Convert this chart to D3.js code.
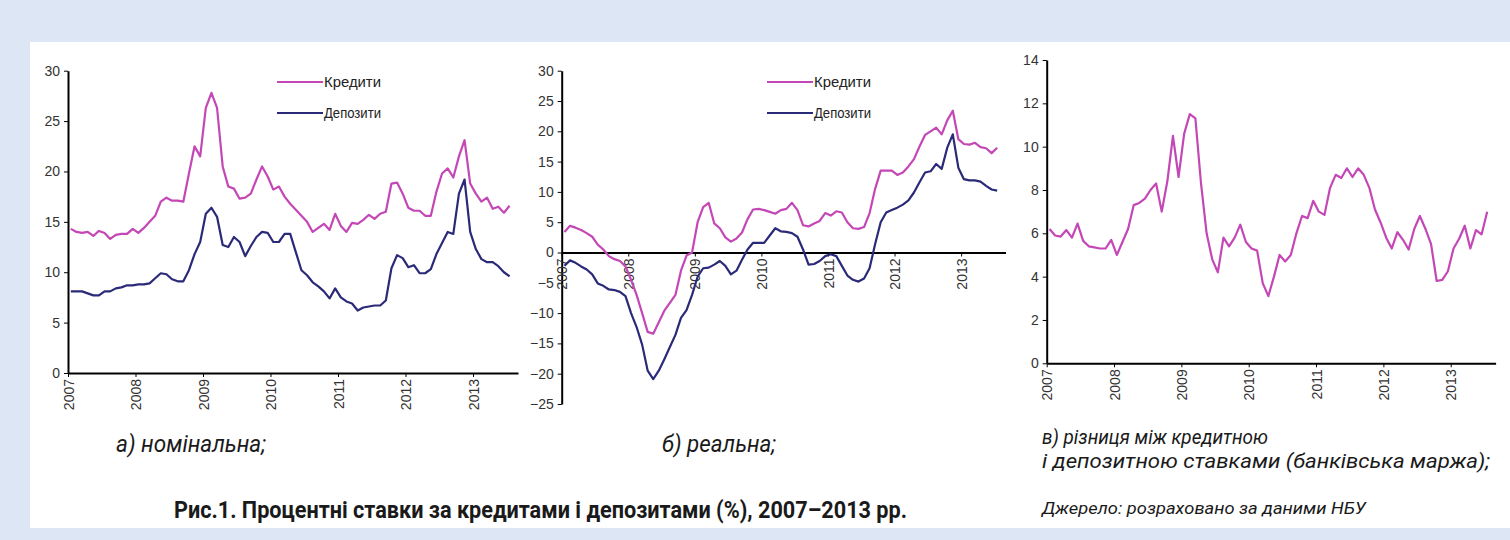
<!DOCTYPE html>
<html>
<head>
<meta charset="utf-8">
<script src="https://cdn.jsdelivr.net/npm/d3@7"></script>
<style>
  body { margin: 0; background: #dce6f4; }
  svg { display: block; }
  .tick text { font-family: "Liberation Sans", Arial, sans-serif; fill: #333; }
</style>
</head>
<body>
<svg id="chart" width="1510" height="540"></svg>
<script>
// Monthly series, Jan 2007 .. Jul 2013 (79 points)
const yearLabels = ['2007', '2008', '2009', '2010', '2011', '2012', '2013'];

const loansNominal = [
    14.3, 14.0, 13.9, 14.0, 13.6, 14.1, 13.9, 13.3, 13.7, 13.8, 13.8, 14.3,
    13.9, 14.4, 15.0, 15.6, 17.0, 17.4, 17.1, 17.1, 17.0, 19.8, 22.5, 21.5,
    26.3, 27.8, 26.3, 20.5, 18.5, 18.3, 17.3, 17.4, 17.8, 19.2, 20.5, 19.5,
    18.2, 18.5, 17.5, 16.8, 16.2, 15.6, 15.0, 14.0, 14.4, 14.8, 14.2, 15.8,
    14.6, 14.0, 14.9, 14.8, 15.2, 15.7, 15.3, 15.8, 16.0, 18.8, 18.9, 17.8,
    16.4, 16.1, 16.1, 15.6, 15.6, 18.0, 19.8, 20.3, 19.4, 21.5, 23.1, 18.8,
    17.8, 17.0, 17.4, 16.3, 16.5, 15.9, 16.6
];
const depositsNominal = [
    8.1, 8.1, 8.1, 7.9, 7.7, 7.7, 8.1, 8.1, 8.4, 8.5, 8.7, 8.7,
    8.8, 8.8, 8.9, 9.4, 9.9, 9.8, 9.3, 9.1, 9.1, 10.2, 11.8, 13.0,
    15.8, 16.4, 15.5, 12.7, 12.5, 13.5, 13.0, 11.6, 12.6, 13.5, 14.0, 13.9,
    13.0, 13.0, 13.8, 13.8, 12.0, 10.2, 9.7, 9.0, 8.6, 8.1, 7.4, 8.4,
    7.5, 7.1, 6.9, 6.2, 6.5, 6.6, 6.7, 6.7, 7.2, 10.4, 11.7, 11.4,
    10.5, 10.7, 9.9, 9.9, 10.3, 11.8, 12.9, 14.0, 13.8, 17.8, 19.2, 14.0,
    12.3, 11.3, 11.0, 11.0, 10.6, 10.0, 9.6
];
const loansReal = [
    3.4, 4.4, 4.1, 3.7, 3.2, 2.6, 1.3, 0.5, -0.6, -1.1, -1.4, -2.3,
    -4.5, -7.0, -10.0, -13.1, -13.4, -11.5, -9.6, -8.3, -7.0, -3.0, -0.5, 0.0,
    5.0, 7.5, 8.2, 4.8, 4.0, 2.5, 1.8, 2.3, 3.3, 5.5, 7.1, 7.2,
    7.0, 6.7, 6.4, 7.0, 7.2, 8.2, 7.0, 4.5, 4.3, 4.8, 5.2, 6.5,
    6.1, 6.8, 6.6, 5.0, 4.0, 3.9, 4.2, 6.5, 10.5, 13.5, 13.5, 13.5,
    12.8, 13.2, 14.2, 15.4, 17.5, 19.4, 20.0, 20.6, 19.5, 21.8, 23.4, 18.7,
    17.9, 17.8, 18.1, 17.4, 17.2, 16.4, 17.3
];
const depositsReal = [
    -2.2, -1.3, -1.7, -2.3, -2.8, -3.6, -5.1, -5.5, -6.1, -6.2, -6.5, -7.2,
    -10.0, -12.3, -15.2, -19.5, -20.9, -19.5, -17.6, -15.6, -13.6, -10.8, -9.5, -7.0,
    -4.0, -2.6, -2.5, -2.0, -1.4, -2.2, -3.6, -3.0, -1.2, 0.5, 1.6, 1.6,
    1.6, 2.8, 4.0, 3.5, 3.4, 3.2, 2.6, 0.5, -2.0, -1.9, -1.4, -0.6,
    -0.3, -0.6, -2.2, -3.8, -4.5, -4.8, -4.3, -2.6, 1.4, 5.0, 6.6, 7.0,
    7.4, 7.9, 8.6, 9.9, 11.6, 13.2, 13.4, 14.6, 13.8, 17.3, 19.5, 14.0,
    12.1, 11.9, 11.9, 11.7, 11.0, 10.4, 10.2
];
const bankMargin = [
    6.2, 5.9, 5.85, 6.15, 5.8, 6.45, 5.65, 5.4, 5.35, 5.3, 5.3, 5.7,
    5.0, 5.6, 6.2, 7.3, 7.4, 7.6, 8.0, 8.3, 7.0, 8.4, 10.5, 8.6,
    10.6, 11.5, 11.3, 8.3, 6.0, 4.8, 4.2, 5.8, 5.4, 5.8, 6.4, 5.6,
    5.3, 5.2, 3.7, 3.1, 4.0, 5.0, 4.7, 5.0, 6.0, 6.8, 6.7, 7.5,
    7.0, 6.85, 8.1, 8.7, 8.55, 9.0, 8.6, 9.0, 8.7, 8.1, 7.1, 6.5,
    5.8, 5.3, 6.05, 5.7, 5.25, 6.2, 6.8, 6.2, 5.5, 3.8, 3.85, 4.25,
    5.3, 5.75, 6.35, 5.3, 6.15, 5.95, 7.0
];

const seriesNames = ['Кредити', 'Депозити'];
const COLORS = { loans: '#c447b6', deposits: '#2b2a78' };

const svg = d3.select('#chart');

// white sheet
svg.append('rect')
    .attr('x', 30).attr('y', 42)
    .attr('width', 1480).attr('height', 486)
    .attr('fill', '#ffffff');

/**
 * Draw one small line chart panel
 */
function drawPanel(p) {
    const g = svg.append('g');

    const x = d3.scaleLinear().domain([0, 80]).range([p.left, p.right]);
    const y = d3.scaleLinear().domain(p.yDomain).range([p.bottom, p.top]);

    // y axis
    const yAxis = g.append('g')
        .attr('transform', `translate(${p.left},0)`)
        .call(d3.axisLeft(y)
            .tickValues(d3.range(p.yDomain[0], p.yDomain[1] + 0.001, p.yStep))
            .tickSize(4).tickSizeOuter(0).tickPadding(4));
    yAxis.selectAll('text').style('font-size', '14px');
    yAxis.select('.domain').attr('stroke-width', 2);

    // x axis at y = 0
    const xAxis = g.append('g')
        .attr('transform', `translate(0,${y(0)})`)
        .call(d3.axisBottom(x)
            .tickValues(d3.range(0, 73, 12))
            .tickFormat((d, i) => yearLabels[i])
            .tickSize(4).tickSizeOuter(0));
    xAxis.select('.domain').attr('stroke-width', 2);
    xAxis.selectAll('text')
        .style('font-size', '14px')
        .style('text-anchor', 'end')
        .attr('transform', 'rotate(-90)')
        .attr('x', -6)
        .attr('y', 0)
        .attr('dy', '0.36em');

    const line = d3.line()
        .x((d, i) => x(i + 0.5))
        .y(d => y(d));

    p.series.forEach(s => {
        g.append('path')
            .datum(s.values)
            .attr('fill', 'none')
            .attr('stroke', s.color)
            .attr('stroke-width', 2.2)
            .attr('stroke-linejoin', 'round')
            .attr('d', line);
    });

    // legend
    if (p.legendX) {
        p.series.forEach((s, i) => {
            const ly = 82 + i * 31;
            g.append('line')
                .attr('x1', p.legendX).attr('x2', p.legendX + 46)
                .attr('y1', ly).attr('y2', ly)
                .attr('stroke', s.color).attr('stroke-width', 2.2);
            g.append('text')
                .attr('x', p.legendX + 47).attr('y', ly + 5)
                .attr('font-family', '"Liberation Sans", Arial, sans-serif')
                .attr('font-size', 15)
                .attr('fill', '#222')
                .attr('textLength', 57)
                .attr('lengthAdjust', 'spacingAndGlyphs')
                .text(s.name);
        });
    }
}

drawPanel({
    left: 68, right: 518, top: 70.7, bottom: 373,
    yDomain: [0, 30], yStep: 5, legendX: 277,
    series: [
        { name: seriesNames[0], values: loansNominal, color: COLORS.loans },
        { name: seriesNames[1], values: depositsNominal, color: COLORS.deposits }
    ]
});

drawPanel({
    left: 561.7, right: 1005.5, top: 70.7, bottom: 404,
    yDomain: [-25, 30], yStep: 5, legendX: 767,
    series: [
        { name: seriesNames[0], values: loansReal, color: COLORS.loans },
        { name: seriesNames[1], values: depositsReal, color: COLORS.deposits }
    ]
});

drawPanel({
    left: 1046.7, right: 1495.6, top: 60, bottom: 363.3,
    yDomain: [0, 14], yStep: 2,
    series: [
        { name: 'Маржа', values: bankMargin, color: COLORS.loans }
    ]
});

// captions (condensed look via textLength)
const captions = [
    { text: 'а) номінальна;', x: 116, y: 452, size: 23, w: 150, style: 'italic', weight: 400 },
    { text: 'б) реальна;', x: 662, y: 452, size: 23, w: 114, style: 'italic', weight: 400 },
    { text: 'в) різниця між кредитною', x: 1042, y: 444, size: 20, w: 226, style: 'italic', weight: 400 },
    { text: 'і депозитною ставками (банківська маржа);', x: 1042, y: 468, size: 20, w: 448, style: 'italic', weight: 400 },
    { text: 'Рис.1. Процентні ставки за кредитами і депозитами (%), 2007–2013 рр.', x: 174, y: 518, size: 24, w: 733, style: 'normal', weight: 700 },
    { text: 'Джерело: розраховано за даними НБУ', x: 1042, y: 514, size: 17, w: 324, style: 'italic', weight: 400 }
];

svg.selectAll('.caption')
    .data(captions)
    .enter()
    .append('text')
    .attr('class', 'caption')
    .attr('x', d => d.x)
    .attr('y', d => d.y)
    .attr('font-family', 'Roboto, "Liberation Sans", sans-serif')
    .attr('font-size', d => d.size)
    .attr('font-style', d => d.style)
    .attr('font-weight', d => d.weight)
    .attr('fill', '#1a1a1a')
    .attr('textLength', d => d.w)
    .attr('lengthAdjust', 'spacingAndGlyphs')
    .text(d => d.text);
</script>
</body>
</html>
